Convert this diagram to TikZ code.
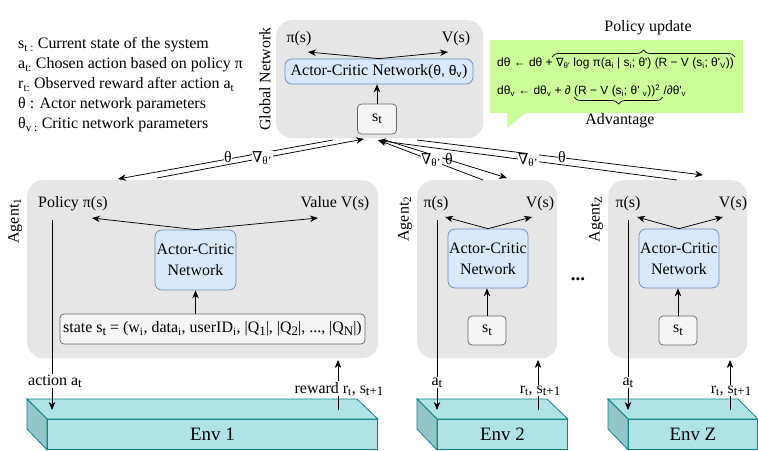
\documentclass[tikz,border=0pt]{standalone}
\usepackage{fontspec}
\setmainfont{Liberation Serif}
\newfontfamily\sansf{Liberation Sans}
\newfontfamily\dvs{DejaVu Sans}
\newfontfamily\dvserif{DejaVu Serif}
\usetikzlibrary{arrows.meta,decorations.pathreplacing}
\newcommand\sbt[1]{\textsubscript{#1}}
\newcommand\bsbt[1]{\raisebox{-0.35ex}{\fontsize{13}{14}\selectfont #1}}
\definecolor{panelgray}{HTML}{E6E6E6}
\definecolor{acfill}{HTML}{DAE8FC}
\definecolor{acdraw}{HTML}{6C8EBF}
\definecolor{stfill}{HTML}{F5F5F5}
\definecolor{stdraw}{HTML}{666666}
\definecolor{envfill}{HTML}{B0E3E6}
\definecolor{envside}{HTML}{93C6C9}
\definecolor{envdraw}{HTML}{0E8088}
\definecolor{callout}{HTML}{CCFF99}
\begin{document}
\begin{tikzpicture}[x=1bp,y=-1bp,
  font=\fontsize{16}{21}\selectfont,
  panel/.style={fill=panelgray, draw=none, rounded corners=16bp, inner sep=0, anchor=north west},
  acbox/.style={fill=acfill, draw=acdraw, line width=0.7bp, rounded corners=7bp, align=center, inner sep=0},
  stbox/.style={fill=stfill, draw=stdraw, line width=0.7bp, rounded corners=4bp, inner sep=0},
  arr/.style={-{Stealth[length=8bp,width=6.5bp]}, line width=0.75bp},
  lbl/.style={inner sep=0},
  wlab/.style={fill=white, inner sep=0.5bp},
  envface/.style={fill=envfill, draw=envdraw, line width=0.8bp},
  envtext/.style={font=\fontsize{19}{22}\selectfont},
  formula/.style={font=\sansf\fontsize{12}{14}\selectfont, inner sep=0, anchor=base west},
  ]
\useasboundingbox (0,0) rectangle (758,451);

% ---------- legend ----------
\node[lbl, anchor=base west] (lg1) at (18,49) {s\sbt{t :} Current state of the system};
\node[lbl, anchor=base west] (lg2) at (18,69) {a\sbt{t:} Chosen action based on policy π};
\node[lbl, anchor=base west] (lg3) at (18,89) {r\sbt{t:} Observed reward after action a\sbt{t}};
\node[lbl, anchor=base west] (lg4) at (18,109) {θ : Actor network parameters};
\node[lbl, anchor=base west] (lg5) at (18,129) {θ\sbt{v :} Critic network parameters};

% ---------- global network ----------
\node[panel, minimum width=207bp, minimum height=118bp] (gpanel) at (276,20) {};
\node[lbl, rotate=90] (glab) at (265,79) {Global Network};
\node[lbl, anchor=base] (gpi) at (299,43) {π(s)};
\node[lbl, anchor=base] (gV) at (456,43) {V(s)};
\node[acbox, minimum width=188bp, minimum height=25bp] (gac) at (379,71.5) {Actor-Critic Network({\sansf\fontsize{14}{16}\selectfont θ, θ\sbt{v}})};
\node[stbox, minimum width=39bp, minimum height=30bp] (gst) at (377,119) {s\bsbt{t}};
\coordinate (gpiT) at (308,52);
\coordinate (gVT) at (448,52);
\draw[arr] (gac.north) -- (gpiT);
\draw[arr] (gac.north) -- (gVT);
\draw[arr] (gst.north) -- (gac.south -| gst.north);

% ---------- callout ----------
\node[fill=callout, draw=none, minimum width=253bp, minimum height=73bp, inner sep=0, anchor=north west] (call) at (490,40) {};
\fill[callout] (507,112) -- (507,128) -- (527,112) -- cycle;
\node[formula] (f1) at (497,67) {dθ ← dθ + {\dvs\fontsize{11.5}{14}\selectfont ∇}\sbt{θ'} log π(a\sbt{i} | s\sbt{i}; θ') (R − V (s\sbt{i}; θ'\sbt{V}))};
\node[formula] (f2) at (497,95) {dθ\sbt{v} ← dθ\sbt{v} + ∂ (R − V (s\sbt{i}; θ' \sbt{v}))\textsuperscript{2} /∂θ'\sbt{v}};
\draw[line width=0.7bp, decorate, decoration={brace, amplitude=7bp}] (552,57) -- (735,57);
\node[lbl, anchor=base] (pup) at (648,32) {Policy update};
\draw[line width=0.7bp, decorate, decoration={brace, amplitude=7bp, mirror}] (574,97) -- (663,97);
\node[lbl, anchor=base] (adv) at (620,125) {Advantage};

% ---------- agent 1 ----------
\node[panel, minimum width=351bp, minimum height=178bp] (p1) at (27,180) {};
\node[lbl, rotate=90] (a1lab) at (15,221) {Agent\sbt{1}};
\node[lbl, anchor=base] (pi1) at (73,208) {Policy π(s)};
\node[lbl, anchor=base] (V1) at (335,208) {Value V(s)};
\node[acbox, minimum width=81bp, minimum height=60bp] (ac1) at (195.5,260) {Actor-Critic\\Network};
\node[stbox, minimum width=305bp, minimum height=30bp] (st1) at (212.5,329) {state s\bsbt{t} = (w\sbt{i}, data\sbt{i}, userID\sbt{i}, |Q\bsbt{1}|, |Q\bsbt{2}|, ..., |Q\bsbt{N}|)};
\coordinate (t1l) at (92,218);
\coordinate (t1r) at (318,218);
\draw[arr] (ac1.north) -- (t1l);
\draw[arr] (ac1.north) -- (t1r);
\draw[arr] (st1.north -| ac1.south) -- (ac1.south);

% ---------- agent 2 ----------
\node[panel, minimum width=140bp, minimum height=178bp] (p2) at (417,180) {};
\node[lbl, rotate=90] (a2lab) at (405,219) {Agent\sbt{2}};
\node[lbl, anchor=base] (pi2) at (436,208) {π(s)};
\node[lbl, anchor=base] (V2) at (540,208) {V(s)};
\node[acbox, minimum width=80bp, minimum height=59bp] (ac2) at (488,258.5) {Actor-Critic\\Network};
\node[stbox, minimum width=38bp, minimum height=29bp] (st2) at (487,330.5) {s\bsbt{t}};
\coordinate (t2l) at (445,217);
\coordinate (t2r) at (532,217);
\draw[arr] (ac2.north) -- (t2l);
\draw[arr] (ac2.north) -- (t2r);
\draw[arr] (st2.north) -- (ac2.south -| st2.north);

\node[lbl, font=\bfseries\fontsize{19}{20}\selectfont] (dots) at (578,279) {...};

% ---------- agent Z ----------
\node[panel, minimum width=139bp, minimum height=178bp] (pZ) at (608,180) {};
\node[lbl, rotate=90] (aZlab) at (596,219) {Agent\sbt{Z}};
\node[lbl, anchor=base] (piZ) at (628,208) {π(s)};
\node[lbl, anchor=base] (VZ) at (733,208) {V(s)};
\node[acbox, minimum width=80bp, minimum height=59bp] (acZ) at (679,258.5) {Actor-Critic\\Network};
\node[stbox, minimum width=38bp, minimum height=29bp] (stZ) at (678,330.5) {s\bsbt{t}};
\coordinate (tZl) at (637,217);
\coordinate (tZr) at (723,217);
\draw[arr] (acZ.north) -- (tZl);
\draw[arr] (acZ.north) -- (tZr);
\draw[arr] (stZ.north) -- (acZ.south -| stZ.north);

% ---------- global <-> agents ----------
\coordinate (g1a) at (333,140); \coordinate (a1in) at (118,179);
\coordinate (a1out) at (157,178); \coordinate (g1b) at (364,139);
\coordinate (g2a) at (385,140); \coordinate (a2in) at (507,178);
\coordinate (a2out) at (483,180); \coordinate (g2b) at (378,140);
\coordinate (gZa) at (417,140); \coordinate (aZin) at (703,175);
\coordinate (aZout) at (677,180); \coordinate (gZb) at (378,140.5);
\draw[arr] (g1a) -- (a1in);
\draw[arr] (a1out) -- (g1b);
\draw[arr] (g2a) -- (a2in);
\draw[arr] (a2out) -- (g2b);
\draw[arr] (gZa) -- (aZin);
\draw[arr] (aZout) -- (gZb);
\node[wlab] (l1t) at (228,157) {θ};
\node[wlab] (l1g) at (262,158) {{\dvserif\fontsize{15}{18}\selectfont ∇}\sbt{θ'}};
\node[wlab] (l2g) at (431,160) {{\dvserif\fontsize{15}{18}\selectfont ∇}\sbt{θ'}};
\node[lbl] (l2t) at (449,159) {θ};
\node[wlab] (lZg) at (528,160) {{\dvserif\fontsize{15}{18}\selectfont ∇}\sbt{θ'}};
\node[wlab] (lZt) at (562,157) {θ};

% ---------- environments ----------
\node[envface, envtext, minimum width=330bp, minimum height=30bp, inner sep=0, anchor=north west] (env1) at (47,419) {Env 1};
\draw[envface] (27,399) -- (357,399) -- (env1.north east) -- (env1.north west) -- cycle;
\draw[envface, fill=envside] (27,399) -- (env1.north west) -- (env1.south west) -- (27,429) -- cycle;

\node[envface, envtext, minimum width=130bp, minimum height=30bp, inner sep=0, anchor=north west] (env2) at (437,419) {Env 2};
\draw[envface] (417,399) -- (547,399) -- (env2.north east) -- (env2.north west) -- cycle;
\draw[envface, fill=envside] (417,399) -- (env2.north west) -- (env2.south west) -- (417,429) -- cycle;

\node[envface, envtext, minimum width=129bp, minimum height=30bp, inner sep=0, anchor=north west] (envZ) at (628,419) {Env Z};
\draw[envface] (608,399) -- (738,399) -- (envZ.north east) -- (envZ.north west) -- cycle;
\draw[envface, fill=envside] (608,399) -- (envZ.north west) -- (envZ.south west) -- (608,429) -- cycle;

% ---------- actions / rewards ----------
\coordinate (a1top) at (52,220); \coordinate (a1bot) at (52,410);
\coordinate (r1bot) at (338,410); \coordinate (r1top) at (338,360);
\draw[arr] (a1top) -- (a1bot);
\draw[arr] (r1bot) -- (r1top);
\node[wlab, anchor=base] (act1) at (55,385) {action a\bsbt{t}};
\node[wlab, anchor=base] (rew1) at (339,393) {reward r\sbt{t}, s\bsbt{t+1}};

\coordinate (a2top) at (437,220); \coordinate (a2bot) at (437,410);
\coordinate (r2bot) at (538,410); \coordinate (r2top) at (538,360);
\draw[arr] (a2top) -- (a2bot);
\draw[arr] (r2bot) -- (r2top);
\node[wlab, anchor=base] (act2) at (437,385) {a\bsbt{t}};
\node[wlab, anchor=base] (rew2) at (540,393) {r\sbt{t}, s\bsbt{t+1}};

\coordinate (aZtop) at (628,220); \coordinate (aZbot) at (628,410);
\coordinate (rZbot) at (730,410); \coordinate (rZtop) at (730,360);
\draw[arr] (aZtop) -- (aZbot);
\draw[arr] (rZbot) -- (rZtop);
\node[wlab, anchor=base] (actZ) at (628,385) {a\bsbt{t}};
\node[wlab, anchor=base] (rewZ) at (731,393) {r\sbt{t}, s\bsbt{t+1}};
\end{tikzpicture}
\end{document}
